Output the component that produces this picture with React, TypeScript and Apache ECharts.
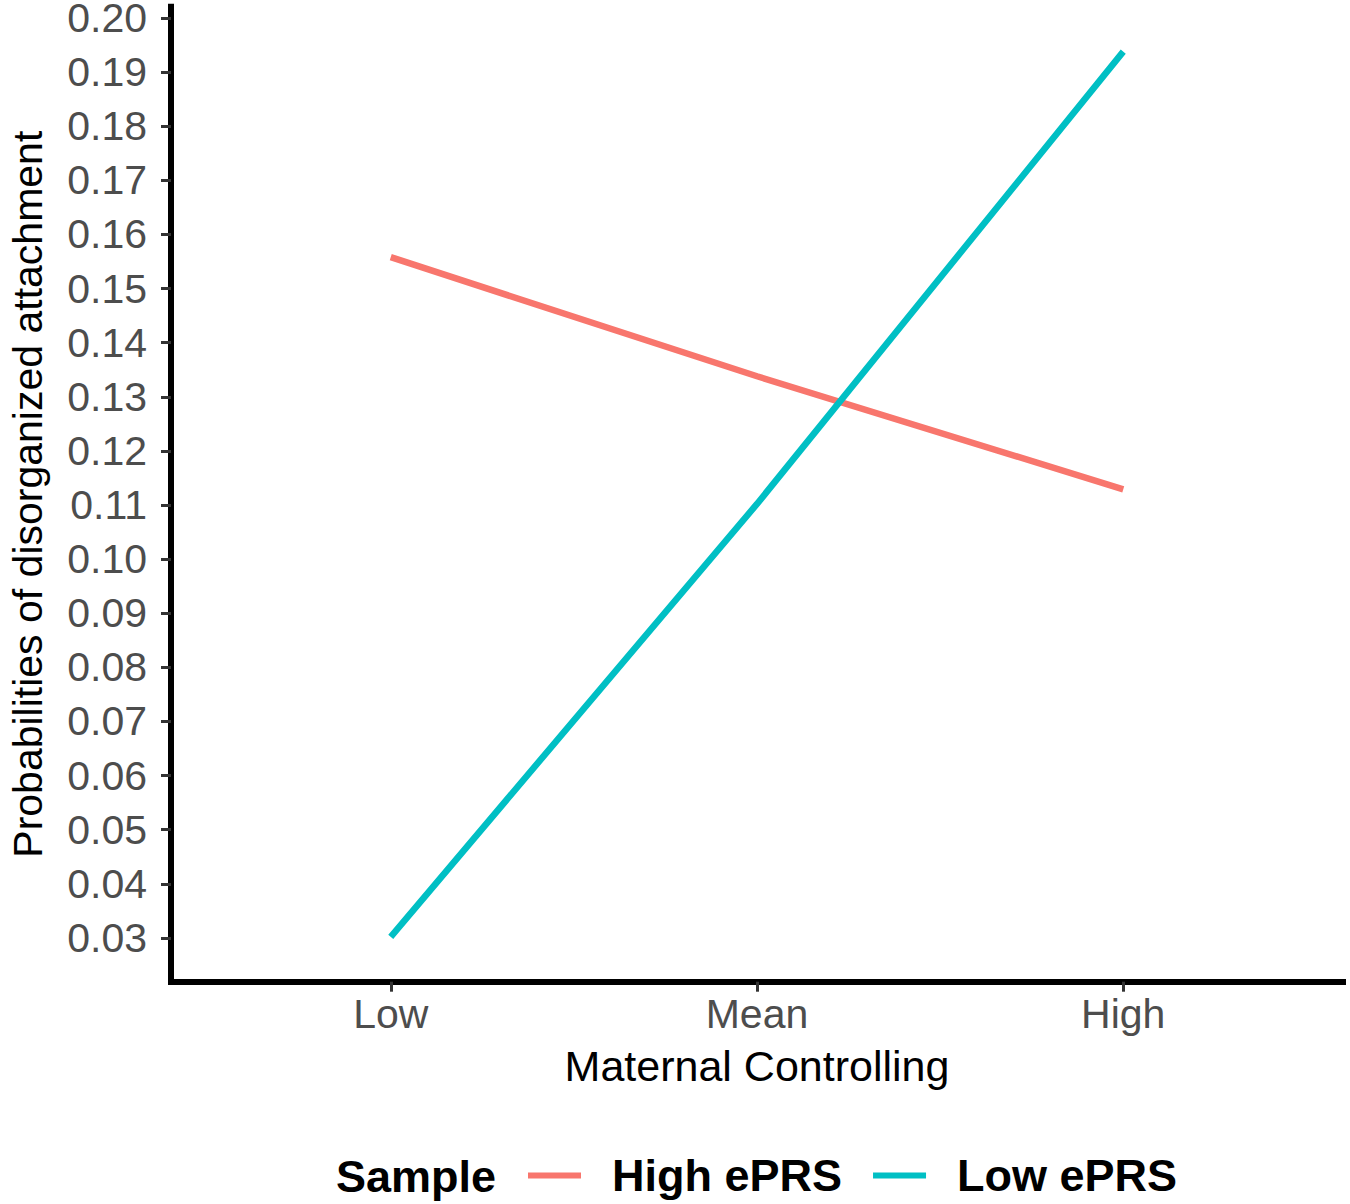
import React, { useEffect, useRef } from "react";
import * as echarts from "echarts";

const categories = ["Low", "Mean", "High"];
const categoryPositions = [1, 2, 3];
const seriesNames = ["High ePRS", "Low ePRS"];
const highEPRS = [0.1558, 0.1338, 0.1129];
const lowEPRS = [0.0302, 0.1102, 0.1938];
const yTicks = [0.03, 0.04, 0.05, 0.06, 0.07, 0.08, 0.09, 0.1, 0.11, 0.12, 0.13, 0.14, 0.15, 0.16, 0.17, 0.18, 0.19, 0.2];
const colors = ["#F8766D", "#00BFC4"];

const FONT = "'Liberation Sans', Arial, Helvetica, sans-serif";

export default function App() {
  const ref = useRef<HTMLDivElement>(null);
  useEffect(() => {
    document.body.style.margin = "0";
    const chart = echarts.init(ref.current!, null, { renderer: "svg" });
    const toPairs = (vals: number[]) => vals.map((v, i) => [categoryPositions[i], v]);
    chart.setOption({
      animation: false,
      backgroundColor: "#ffffff",
      grid: {
        left: 171,
        right: 7,
        top: 6.7,
        bottom: 222.3,
        containLabel: false,
        outerBoundsMode: "none",
      },
      xAxis: {
        type: "value",
        min: 0.4,
        max: 3.6,
        name: "Maternal Controlling",
        nameLocation: "middle",
        nameGap: 63,
        nameTextStyle: { fontFamily: FONT, fontSize: 43, color: "#000000" },
        axisLine: { show: true, onZero: false, lineStyle: { color: "#000000", width: 6, cap: "square" } },
        axisTick: {
          show: true,
          customValues: categoryPositions,
          length: 10,
          lineStyle: { color: "#333333", width: 3 },
        },
        axisLabel: {
          customValues: categoryPositions,
          formatter: (v: number) => categories[Math.round(v) - 1] ?? "",
          fontFamily: FONT,
          fontSize: 41,
          color: "#4D4D4D",
          margin: 12,
        },
        splitLine: { show: false },
      },
      yAxis: {
        type: "value",
        min: 0.0219,
        max: 0.2021,
        name: "Probabilities of disorganized attachment",
        nameLocation: "middle",
        nameGap: 123,
        nameTextStyle: { fontFamily: FONT, fontSize: 41, color: "#000000" },
        axisLine: { show: true, onZero: false, lineStyle: { color: "#000000", width: 6, cap: "square" } },
        axisTick: {
          show: true,
          customValues: yTicks,
          length: 10,
          lineStyle: { color: "#333333", width: 3 },
        },
        axisLabel: {
          customValues: yTicks,
          formatter: (v: number) => v.toFixed(2),
          fontFamily: FONT,
          fontSize: 41,
          lineHeight: 34,
          padding: [6, 0, 0, 0],
          color: "#4D4D4D",
          margin: 24,
        },
        splitLine: { show: false },
      },
      legend: {
        left: 528,
        top: 1153,
        padding: 0,
        icon: "rect",
        itemWidth: 53,
        itemHeight: 6,
        itemGap: 31,
        data: seriesNames,
        textStyle: {
          fontFamily: FONT,
          fontSize: 45,
          fontWeight: "bold",
          color: "#000000",
          padding: [0, 0, 0, 26],
        },
      },
      graphic: [
        {
          type: "text",
          left: 336,
          top: 1154,
          style: {
            text: "Sample",
            fontFamily: FONT,
            fontSize: 45,
            fontWeight: "bold",
            fill: "#000000",
          },
        },
      ],
      series: [
        {
          name: seriesNames[0],
          type: "line",
          data: toPairs(highEPRS),
          showSymbol: false,
          symbol: "none",
          color: colors[0],
          lineStyle: { color: colors[0], width: 6.5 },
        },
        {
          name: seriesNames[1],
          type: "line",
          data: toPairs(lowEPRS),
          showSymbol: false,
          symbol: "none",
          color: colors[1],
          lineStyle: { color: colors[1], width: 6.5 },
        },
      ],
    });
    return () => chart.dispose();
  }, []);
  return <div ref={ref} style={{ width: 1350, height: 1204 }} />;
}
